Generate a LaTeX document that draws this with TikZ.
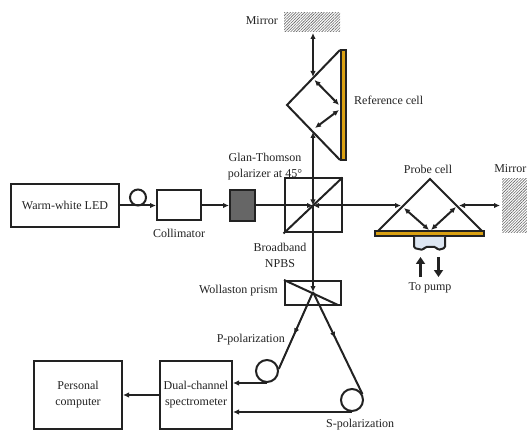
\documentclass[tikz,border=0pt]{standalone}
\usepackage{fontspec}
\setmainfont{Liberation Serif}
\usepackage{tikz}
\usetikzlibrary{arrows.meta, positioning, patterns.meta, decorations.markings, calc}
\definecolor{gold1}{HTML}{D9A012}
\definecolor{gray1}{HTML}{666666}
\definecolor{flow1}{HTML}{DDE6F2}
\definecolor{ink1}{HTML}{222222}

\begin{document}
\begin{tikzpicture}[
  x=1pt, y=-1pt,
  box/.style    = {draw=ink1, text=ink1, line width=2pt, align=center, inner sep=1pt,
                   font=\fontsize{12}{16}\selectfont},
  label/.style  = {inner sep=0pt, text=ink1, align=center, font=\fontsize{12}{16}\selectfont},
  coil/.style   = {draw=ink1, circle, line width=2pt, inner sep=0pt},
  plate/.style  = {draw=ink1, fill=gold1, line width=1.6pt, inner sep=0pt},
  hatch/.style  = {inner sep=0pt, pattern={Lines[angle=45,distance=2pt,line width=.6pt]},
                   pattern color=gray1},
  wire/.style   = {draw=ink1, line width=2pt},
  beam/.style   = {wire, -{Latex[length=6pt,width=5.5pt]}},
  dbeam/.style  = {wire, {Latex[length=6pt,width=5.5pt]}-{Latex[length=6pt,width=5.5pt]}},
  midtip/.style = {wire, postaction={decorate}, decoration={markings,
                   mark=at position #1 with {\arrow{Latex[length=6pt,width=5.5pt]}}}},
  pump/.style   = {draw=ink1, line width=3.2pt, -{Triangle[length=7pt,width=9pt]}}
]
\useasboundingbox (0,0) rectangle (527,430);

% Source arm
\node[box, minimum width=108pt, minimum height=43pt] (led) at (65,205.5) {Warm-white LED};
\node[box, minimum width=44pt, minimum height=30pt, right=36pt of led] (coll) {};
\node[box, fill=gray1, minimum width=25pt, minimum height=31pt, right=27pt of coll] (pol) {};
\node[coil, minimum size=16pt] (loop) at (138,197.5) {};
\node[label, below=7pt of coll] (colltxt) {Collimator};
\node[label] (poltxt) at (265,167) {Glan-Thomson\\polarizer at 45°};

% Beam splitter and Wollaston prism
\node[box, minimum width=57pt, minimum height=54pt] (npbs) at (313,205.5) {};
\node[box, minimum width=56pt, minimum height=24pt] (woll) at (313,293) {};
\node[label] (npbstxt) at (280,255) {Broadband\\NPBS};
\node[label, anchor=east] (wolltxt) at (278,291) {Wollaston prism};
\coordinate (npbsc) at (npbs.center);
\coordinate (wollc) at (313,292);
\coordinate (wollend) at (338,305);
\draw[wire] (npbs.south west) -- (npbs.north east);
\draw[wire] (woll.north west) -- (wollend);

% Reference arm
\node[hatch, minimum width=56pt, minimum height=19pt] (mirtop) at (312,22.5) {};
\node[label, anchor=east] (mirtoptxt) at (278,21) {Mirror};
\node[plate, minimum width=5pt, minimum height=110pt] (refplate) at (343.5,105) {};
\node[label, anchor=west] (reftxt) at (354,100) {Reference cell};
\coordinate (refa) at (340,50);
\coordinate (refb) at (287,105);
\coordinate (refc) at (340,160);
\coordinate (reftop) at (313,33);
\coordinate (refup) at (313,77);
\coordinate (refin) at (314.5,80);
\coordinate (refhit) at (339,105);
\coordinate (refhitb) at (339,110);
\coordinate (refout) at (315,128);
\coordinate (reflow) at (313,132);
\draw[wire, line join=miter] (refa) -- (refb) -- (refc);

% Probe arm
\node[plate, minimum width=109pt, minimum height=5pt] (probeplate) at (429.5,233.5) {};
\coordinate (proa) at (378,231);
\coordinate (prob) at (430,179);
\coordinate (proc) at (482,231);
\coordinate (proin) at (401,205.5);
\coordinate (proina) at (404,208);
\coordinate (prohita) at (429,230);
\coordinate (prohitb) at (431,230);
\coordinate (prooutb) at (456,207);
\coordinate (proout) at (459,205.5);
\coordinate (promir) at (500,205.5);
\draw[wire] (proa) -- (prob) -- (proc);
\node[label] (protxt) at (428,169) {Probe cell};
\node[hatch, minimum width=25pt, minimum height=54pt] (mirright) at (514.5,206) {};
\node[label, anchor=east] (mirrighttxt) at (526.5,169) {Mirror};
\draw[wire, fill=flow1, rounded corners=1.5pt]
  (414,237) -- (414,248) -- (423,250) -- (425,247) -- (436,247) -- (438,250) -- (445,248) -- (445,237);
\coordinate (pumpup) at (420.5,277);
\coordinate (pumpupend) at (420.5,257);
\coordinate (pumpdn) at (438.5,257);
\coordinate (pumpdnend) at (438.5,277);
\draw[pump] (pumpup) -- (pumpupend);
\draw[pump] (pumpdn) -- (pumpdnend);
\node[label] (pumptxt) at (430,288) {To pump};

% Detection
\node[box, minimum width=72pt, minimum height=68pt] (spec) at (196,395) {Dual-channel\\spectrometer};
\node[box, minimum width=88pt, minimum height=68pt, left=36pt of spec] (pc) {Personal\\computer};
\node[coil, minimum size=22pt] (ploop) at (267,371) {};
\node[coil, minimum size=22pt] (sloop) at (352,400) {};
\node[label, anchor=east] (ptxt) at (285,340) {P-polarization};
\node[label, anchor=west] (stxt) at (326,425) {S-polarization};

% Beams
\draw[beam] (led.east) -- (coll.west);
\draw[beam] (coll.east) -- (pol.west);
\draw[beam] (pol.east) -- (npbsc);
\draw[dbeam] (npbsc) -- (proin);
\draw[dbeam] (npbsc) -- (reflow);
\draw[beam] (npbsc) -- (wollc);
\draw[dbeam] (reftop) -- (refup);
\draw[dbeam] (refin) -- (refhit);
\draw[dbeam] (refhitb) -- (refout);
\draw[dbeam] (proina) -- (prohita);
\draw[dbeam] (prohitb) -- (prooutb);
\draw[dbeam] (proout) -- (promir);
\draw[midtip=0.55] (wollc) -- (ploop.10);
\draw[midtip=0.45] (wollc) -- (sloop.30);
\draw[beam] (ploop.south) -- (ploop.south -| spec.east);
\draw[beam] (sloop.south) -- (sloop.south -| spec.east);
\draw[beam] (spec.west) -- (pc.east);

\end{tikzpicture}
\end{document}
